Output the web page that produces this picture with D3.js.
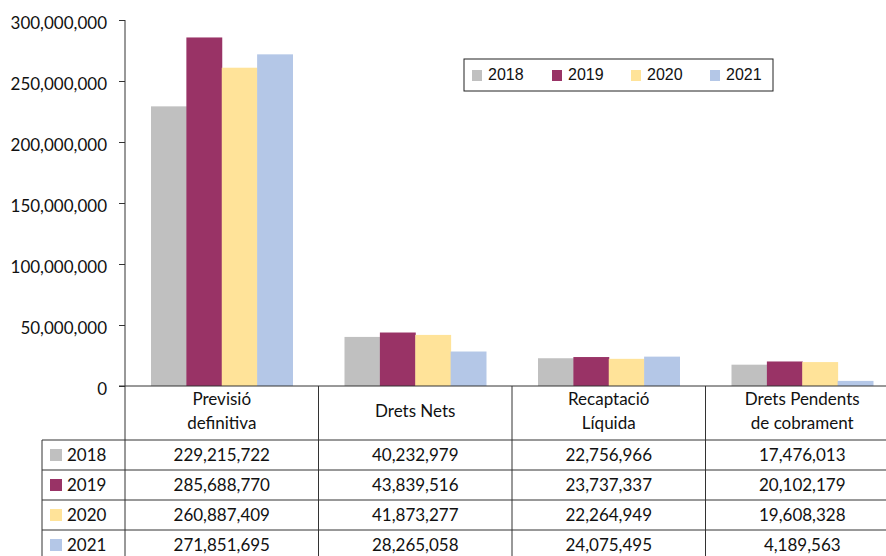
<!DOCTYPE html>
<html>
<head>
<meta charset="utf-8">
<title>Drets</title>
<script src="https://cdn.jsdelivr.net/npm/d3@7"></script>
<style>
  body { margin: 0; background: #fff; }
  svg { display: block; }
  text { font-family: Lato, "Open Sans", sans-serif; fill: #111; }
</style>
</head>
<body>
<svg width="886" height="556"></svg>
<script>
var categories = [["Previsió", "definitiva"], ["Drets Nets"], ["Recaptació", "Líquida"], ["Drets Pendents", "de cobrament"]];
var years = ["2018", "2019", "2020", "2021"];
var colors = ["#c0c0c0", "#993366", "#ffe399", "#b4c7e7"];
var v2018 = [229215722, 40232979, 22756966, 17476013];
var v2019 = [285688770, 43839516, 23737337, 20102179];
var v2020 = [260887409, 41873277, 22264949, 19608328];
var v2021 = [271851695, 28265058, 24075495, 4189563];
var yTicks = [0, 50000000, 100000000, 150000000, 200000000, 250000000, 300000000];

var series = [v2018, v2019, v2020, v2021];
var svg = d3.select("svg");
var plotLeft = 125, colW = 193.5, plotTop = 20, base = 386;
var headH = 54, rowH = 30, tableLeft = 42;

var x = d3.scaleBand().domain(d3.range(categories.length))
  .range([plotLeft, plotLeft + colW * categories.length]).paddingInner(0).paddingOuter(0);
var x1 = d3.scaleBand().domain(d3.range(years.length))
  .range([26, colW - 26]);
var y = d3.scaleLinear().domain([0, 300000000]).range([base, plotTop]);
var fmt = d3.format(",");

// bars
categories.forEach(function(c, ci) {
  series.forEach(function(s, si) {
    svg.append("rect")
      .attr("x", x(ci) + x1(si))
      .attr("y", y(s[ci]))
      .attr("width", x1.bandwidth() + 0.5)
      .attr("height", base - y(s[ci]))
      .attr("fill", colors[si]);
  });
});

// y axis
var yAxis = d3.axisLeft(y).tickValues(yTicks).tickFormat(function(d) { return d === 0 ? "0" : fmt(d); })
  .tickSize(6).tickPadding(12);
var ga = svg.append("g").attr("transform", "translate(" + plotLeft + ",0)").call(yAxis);
ga.select(".domain").remove();
ga.selectAll("line").attr("stroke", "#333");
ga.selectAll("text").style("font-size", "17px").attr("font-family", null).attr("dy", "0.5em");
svg.append("line").attr("x1", plotLeft).attr("x2", plotLeft).attr("y1", plotTop).attr("y2", 556).attr("stroke", "#333");

// table lines
var right = plotLeft + colW * categories.length;
svg.append("line").attr("x1", plotLeft - 6).attr("x2", right).attr("y1", base).attr("y2", base).attr("stroke", "#333");
categories.forEach(function(c, ci) {
  if (ci > 0) svg.append("line").attr("x1", x(ci)).attr("x2", x(ci)).attr("y1", base).attr("y2", 556).attr("stroke", "#333");
});
years.forEach(function(yr, i) {
  var yy = base + headH + i * rowH;
  svg.append("line").attr("x1", tableLeft).attr("x2", right).attr("y1", yy).attr("y2", yy).attr("stroke", "#333");
});
svg.append("line").attr("x1", tableLeft).attr("x2", tableLeft).attr("y1", base + headH).attr("y2", 556).attr("stroke", "#333");

// category headers
categories.forEach(function(c, ci) {
  var cx = x(ci) + colW / 2;
  var t = svg.append("text").attr("text-anchor", "middle").style("font-size", "17px");
  if (c.length === 1) {
    t.append("tspan").attr("x", cx).attr("y", base + 31).text(c[0]);
  } else {
    c.forEach(function(line, li) {
      t.append("tspan").attr("x", cx).attr("y", base + 19 + li * 24).text(line);
    });
  }
});

// table rows
years.forEach(function(yr, i) {
  var ry = base + headH + i * rowH;
  svg.append("rect").attr("x", 50).attr("y", ry + 9).attr("width", 12).attr("height", 12).attr("fill", colors[i]);
  svg.append("text").attr("x", 67).attr("y", ry + 21).style("font-size", "17px").text(yr);
  series[i].forEach(function(v, ci) {
    svg.append("text").attr("x", x(ci) + colW / 2).attr("y", ry + 21)
      .attr("text-anchor", "middle").style("font-size", "17px").text(fmt(v));
  });
});

// legend
var lg = svg.append("g").attr("transform", "translate(464,59)");
lg.append("rect").attr("width", 309).attr("height", 32).attr("fill", "#fff").attr("stroke", "#222");
var lx = [8, 88, 167, 246];
years.forEach(function(yr, i) {
  lg.append("rect").attr("x", lx[i]).attr("y", 11).attr("width", 10).attr("height", 11).attr("fill", colors[i]);
  lg.append("text").attr("x", lx[i] + 16).attr("y", 21).style("font-family", "'Liberation Sans', Arial, sans-serif")
    .style("font-size", "16px").text(yr);
});
</script>
</body>
</html>
